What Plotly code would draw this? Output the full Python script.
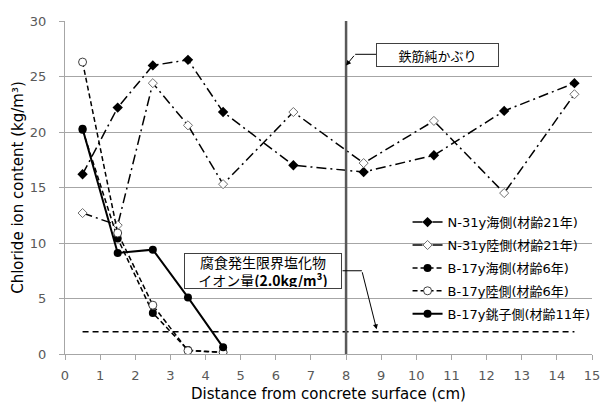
import plotly.graph_objects as go

# Depth from the concrete surface (cm)
depth_n31 = [0.5, 1.5, 2.5, 3.5, 4.5, 6.5, 8.5, 10.5, 12.5, 14.5]
depth_b17 = [0.5, 1.5, 2.5, 3.5, 4.5]

# Chloride ion content (kg/m3)
n31_sea = [16.2, 22.2, 26.0, 26.5, 21.8, 17.0, 16.4, 17.9, 21.9, 24.4]
n31_land = [12.7, 11.6, 24.4, 20.6, 15.3, 21.8, 17.2, 21.0, 14.5, 23.4]
b17_sea = [20.2, 10.4, 3.7, 0.35, 0.15]
b17_land = [26.3, 10.9, 4.4, 0.3, 0.15]
b17_choshi = [20.3, 9.1, 9.4, 5.1, 0.6]

series_names = [
    "N-31y海側(材齢21年)",
    "N-31y陸側(材齢21年)",
    "B-17y海側(材齢6年)",
    "B-17y陸側(材齢6年)",
    "B-17y銚子側(材齢11年)",
]

x_ticks = list(range(0, 16))
y_ticks = [0, 5, 10, 15, 20, 25, 30]

threshold_value = 2.0
threshold_span = [0.5, 14.5]
cover_depth = 8.0

FONT = "DejaVu Sans, Noto Sans CJK JP, sans-serif"
CJK = "Noto Sans CJK JP, DejaVu Sans, sans-serif"

fig = go.Figure()

dashdot = "10px,4px,2px,4px"
dashed = "5px,3px"

fig.add_trace(go.Scatter(
    x=depth_n31, y=n31_sea, name=series_names[0], legendgroup="a",
    mode="lines+markers",
    line=dict(color="black", width=1.5, dash=dashdot),
    marker=dict(symbol="diamond", size=8, color="black"),
))
fig.add_trace(go.Scatter(
    x=depth_n31, y=n31_land, name=series_names[1], legendgroup="b",
    mode="lines+markers",
    line=dict(color="black", width=1.5, dash=dashdot),
    marker=dict(symbol="diamond", size=7, color="white",
                line=dict(color="#707070", width=1)),
))
fig.add_trace(go.Scatter(
    x=depth_b17, y=b17_sea, name=series_names[2], legendgroup="c",
    mode="lines+markers",
    line=dict(color="black", width=1.5, dash=dashed),
    marker=dict(symbol="circle", size=8, color="black"),
))
fig.add_trace(go.Scatter(
    x=depth_b17, y=b17_land, name=series_names[3], legendgroup="d",
    mode="lines+markers",
    line=dict(color="black", width=1.5, dash=dashed),
    marker=dict(symbol="circle", size=8, color="white",
                line=dict(color="#404040", width=1)),
))
fig.add_trace(go.Scatter(
    x=depth_b17, y=b17_choshi, name=series_names[4], legendgroup="e",
    mode="lines+markers",
    line=dict(color="black", width=2),
    marker=dict(symbol="circle", size=8, color="black"),
))

# Critical chloride threshold line
fig.add_trace(go.Scatter(
    x=threshold_span, y=[threshold_value, threshold_value],
    mode="lines", showlegend=False, hoverinfo="skip",
    line=dict(color="black", width=1.5, dash="6px,4px"),
))

# White panel behind the legend (masks gridlines, keeps traces visible)
fig.add_shape(type="rect", xref="paper", yref="paper",
              x0=0.636, x1=1.02, y0=0.078, y1=0.447,
              fillcolor="white", line=dict(width=0), layer="between")

# Rebar cover depth
fig.add_shape(type="line", xref="x", yref="y",
              x0=cover_depth, x1=cover_depth, y0=0, y1=30,
              line=dict(color="#595959", width=2.5), layer="above")

# Label: rebar cover
fig.add_annotation(
    x=10.6, y=26.98, xref="x", yref="y", showarrow=False,
    text="鉄筋純かぶり", font=dict(family=CJK, size=13, color="black"),
    bgcolor="white", bordercolor="#404040", borderwidth=1,
    width=119, height=20,
)
fig.add_shape(type="line", xref="x", yref="y",
              x0=8.86, x1=8.26, y0=27.0, y1=27.0,
              line=dict(color="black", width=1))
fig.add_annotation(
    x=cover_depth, y=26.0, ax=8.26, ay=27.0, axref="x", ayref="y",
    xref="x", yref="y", text="", showarrow=True,
    arrowhead=2, arrowsize=1, arrowwidth=1, arrowcolor="black",
)

# Label: threshold value
fig.add_annotation(
    x=5.64, y=7.52, xref="x", yref="y", showarrow=False,
    text="腐食発生限界塩化物<br>イオン量<b>(2.0kg/m³)</b>",
    font=dict(family=CJK, size=14, color="black"),
    bgcolor="white", bordercolor="#404040", borderwidth=1,
    width=154, height=32,
)
fig.add_shape(type="line", xref="x", yref="y",
              x0=7.9, x1=8.45, y0=7.5, y1=7.5,
              line=dict(color="black", width=1))
fig.add_annotation(
    x=8.87, y=2.22, ax=8.45, ay=7.5, axref="x", ayref="y",
    xref="x", yref="y", text="", showarrow=True,
    arrowhead=2, arrowsize=1, arrowwidth=1, arrowcolor="black",
)

fig.update_layout(
    width=602, height=406,
    margin=dict(l=65, r=10, t=21, b=52, autoexpand=False),
    paper_bgcolor="white", plot_bgcolor="white",
    font=dict(family=FONT, color="black"),
    legend=dict(
        x=0.65, y=0.441, xanchor="left", yanchor="top",
        bgcolor="rgba(0,0,0,0)", borderwidth=0,
        font=dict(family=FONT, size=13, color="black"),
        traceorder="grouped", tracegroupgap=3,
    ),
    xaxis=dict(
        range=[0, 15], tickvals=x_ticks, ticktext=[str(v) for v in x_ticks],
        showgrid=False, zeroline=False,
        showline=True, linecolor="#a6a6a6", linewidth=1,
        ticks="outside", ticklen=5, tickcolor="#a6a6a6",
        tickfont=dict(family=FONT, size=13, color="#595959"),
        ticklabelstandoff=4,
        title=dict(text="Distance from concrete surface (cm)",
                   font=dict(family=FONT, size=15, color="black"),
                   standoff=6),
    ),
    yaxis=dict(
        range=[0, 30], tickvals=y_ticks,
        showgrid=True, gridcolor="#a6a6a6", gridwidth=1, zeroline=False,
        showline=True, linecolor="#a6a6a6", linewidth=1,
        ticks="outside", ticklen=5, tickcolor="#a6a6a6",
        tickfont=dict(family=FONT, size=13, color="#595959"),
        ticklabelstandoff=10,
        title=dict(text="Chloride ion content (kg/m³)",
                   font=dict(family=FONT, size=15, color="black"),
                   standoff=2),
    ),
)

fig.write_html("out.html")
